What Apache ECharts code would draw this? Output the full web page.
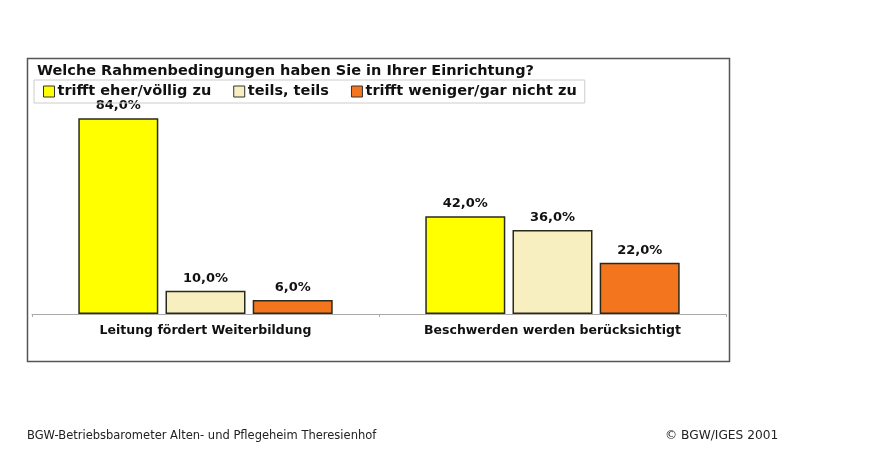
<!DOCTYPE html>
<html><head><meta charset="utf-8">
<script src="https://cdn.jsdelivr.net/npm/echarts@6/dist/echarts.min.js"></script>
<style>html,body{margin:0;padding:0;background:#fff}#c{width:878px;height:475px}</style>
</head><body><div id="c"></div>
<script>
const categories = ['Leitung fördert Weiterbildung', 'Beschwerden werden berücksichtigt'];
const seriesNames = ['trifft eher/völlig zu', 'teils, teils', 'trifft weniger/gar nicht zu'];
const valuesAgree = [84.0, 42.0];
const valuesPartly = [10.0, 36.0];
const valuesDisagree = [6.0, 22.0];
const colors = ['#ffff00', '#f8efc0', '#f3761e'];
const titleText = 'Welche Rahmenbedingungen haben Sie in Ihrer Einrichtung?';
const footerLeft = 'BGW-Betriebsbarometer Alten- und Pflegeheim Theresienhof';
const footerRight = '© BGW/IGES 2001';

const FONT = '"DejaVu Sans", sans-serif';
const chart = echarts.init(document.getElementById('c'), null, {renderer: 'canvas'});
const mk = (name, data, color) => ({
  name, type: 'bar', data, barWidth: 80, barGap: '9%',
  itemStyle: {color, borderColor: '#2a2a1a', borderWidth: 1.5},
  label: {show: true, position: 'top', distance: 6, fontFamily: FONT, fontWeight: 'bold', fontSize: 13, color: '#111',
    formatter: p => p.value.toFixed(1).replace('.', ',') + '%'}
});
chart.setOption({
  animation: false,
  backgroundColor: '#fff',
  title: {text: titleText, left: 37, top: 64, padding: 0, textStyle: {fontFamily: FONT, fontWeight: 'bold', fontSize: 14.5, color: '#111'}},
  legend: {
    data: seriesNames, left: 34, top: 80, itemWidth: 11, itemHeight: 11, itemGap: 22, icon: 'rect',
    padding: [4, 8, 4, 9], borderColor: '#ccc', borderWidth: 1,
    textStyle: {fontFamily: FONT, fontWeight: 'bold', fontSize: 14.5, color: '#111', padding: [0, 0, 0, -2]},
    itemStyle: {borderColor: '#333', borderWidth: 1}
  },
  grid: {left: 32, right: 152, top: 81, bottom: 161},
  xAxis: {
    type: 'category', data: categories,
    axisLine: {lineStyle: {color: '#aaa', width: 1}},
    axisTick: {show: true, length: 3, lineStyle: {color: '#aaa'}},
    axisLabel: {interval: 0, fontFamily: FONT, fontWeight: 'bold', fontSize: 12.5, color: '#111', margin: 10}
  },
  yAxis: {type: 'value', min: 0, max: 100, show: false, splitLine: {show: false}},
  series: [mk(seriesNames[0], valuesAgree, colors[0]), mk(seriesNames[1], valuesPartly, colors[1]), mk(seriesNames[2], valuesDisagree, colors[2])],
  graphic: [
    {type: 'rect', shape: {x: 27.5, y: 58.5, width: 702, height: 303}, style: {fill: 'none', stroke: '#555', lineWidth: 1.5}, silent: true, z: -1},
    {type: 'text', left: 27, top: 430, style: {text: footerLeft, fontFamily: FONT, fontSize: 11.5, fill: '#222'}},
    {type: 'text', left: 665, top: 430, style: {text: footerRight, fontFamily: FONT, fontSize: 12.2, fill: '#222'}}
  ]
});
</script></body></html>
